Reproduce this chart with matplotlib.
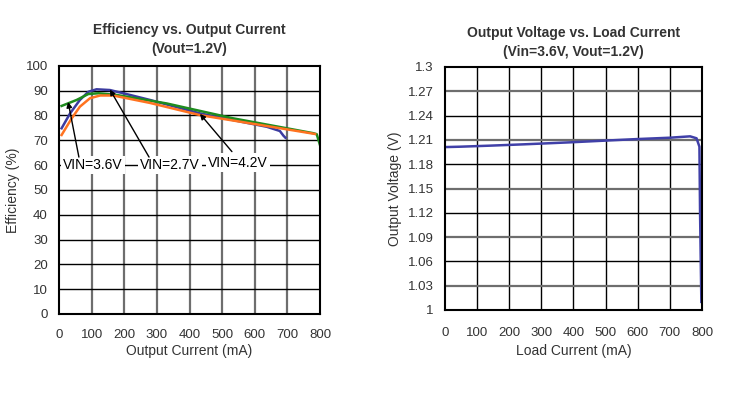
import matplotlib
matplotlib.use("Agg")
import matplotlib.pyplot as plt

plt.rcParams['font.family'] = ['Liberation Sans', 'DejaVu Sans']

# ---- Left chart data: efficiency vs output current ----
vin27_x = [8, 34, 64, 90, 115, 156, 197, 279, 432, 575, 637, 677, 688, 694]
vin27_y = [74.8, 80.8, 86.2, 89.5, 90.5, 90.2, 88.9, 86.2, 80.8, 77.0, 75.4, 73.7, 71.8, 71.0]

vin36_x = [8, 54, 90, 121, 177, 330, 534, 780, 790, 800]
vin36_y = [83.8, 86.2, 88.6, 88.9, 88.2, 84.8, 78.8, 72.8, 72.4, 68.0]

vin42_x = [8, 39, 64, 95, 126, 166, 279, 432, 637, 785]
vin42_y = [72.1, 78.8, 83.5, 86.9, 88.0, 88.0, 85.0, 80.1, 75.7, 72.5]

eff_xticks = [0, 100, 200, 300, 400, 500, 600, 700, 800]
eff_yticks = [0, 10, 20, 30, 40, 50, 60, 70, 80, 90, 100]

# annotations: label, text position (x, y), arrow head (x, y)
ann_labels = ["VIN=3.6V", "VIN=2.7V", "VIN=4.2V"]
ann_text_xy = [(12, 60), (248, 60), (457, 61)]
ann_head_xy = [(28, 85.4), (156, 90.4), (432, 80.6)]
ann_tail_xy = [(61, 63.2), (276, 63.2), (530, 65.4)]

# ---- Right chart data: output voltage vs load current ----
vout_x = [8, 48, 141, 244, 390, 493, 597, 700, 763, 783, 792, 794, 798]
vout_y = [1.2012, 1.2016, 1.2029, 1.2045, 1.2070, 1.2090, 1.2110, 1.2127, 1.2144, 1.2120, 1.2016, 1.119, 1.010]

vout_xticks = [0, 100, 200, 300, 400, 500, 600, 700, 800]
vout_yticks = [1.0, 1.03, 1.06, 1.09, 1.12, 1.15, 1.18, 1.21, 1.24, 1.27, 1.3]
vout_yticklabels = ["1", "1.03", "1.06", "1.09", "1.12", "1.15", "1.18", "1.21", "1.24", "1.27", "1.3"]

TXT = '#333333'
W, H = 734, 394
fig = plt.figure(figsize=(W / 100, H / 100), dpi=100)

def rect(l, r, t, b):
    return [l / W, (H - b) / H, (r - l) / W, (b - t) / H]

ax1 = fig.add_axes(rect(59, 320, 65.7, 314))
ax2 = fig.add_axes(rect(444.7, 702, 67, 310))

# ---- left ----
ax1.set_xlim(0, 800)
ax1.set_ylim(0, 100)
ax1.set_xticks(eff_xticks)
ax1.set_yticks(eff_yticks)
for x in eff_xticks[1:-1]:
    ax1.axvline(x, color='#6e6e6e', lw=1.6, zorder=1)
for y in eff_yticks[1:-1]:
    ax1.axhline(y, color='black', lw=1.0, zorder=1)

ax1.plot(vin27_x, vin27_y, color='#3b3ba0', lw=1.8, zorder=3)
ax1.plot(vin36_x, vin36_y, color='#1e8c1e', lw=1.8, zorder=3)
ax1.plot(vin42_x, vin42_y, color='#ff7320', lw=1.8, zorder=4)

for lab, txy, hxy, sxy in zip(ann_labels, ann_text_xy, ann_head_xy, ann_tail_xy):
    ax1.text(txy[0], txy[1], lab, fontsize=10, color='black', va='center', ha='left',
             zorder=6, bbox=dict(facecolor='white', edgecolor='none', pad=1.5))
    ax1.annotate('', xy=hxy, xytext=sxy, zorder=7,
                 arrowprops=dict(arrowstyle='-|>', color='black', lw=1.0,
                                 mutation_scale=8, shrinkA=0, shrinkB=0))

ax1.set_title("Efficiency vs. Output Current\n(Vout=1.2V)", fontsize=10,
              fontweight='bold', color=TXT, pad=9, linespacing=1.45)
ax1.set_xlabel("Output Current (mA)", fontsize=10, color=TXT, labelpad=2)
ax1.set_ylabel("Efficiency (%)", fontsize=10, color=TXT, labelpad=4)

# ---- right ----
ax2.set_xlim(0, 800)
ax2.set_ylim(1.0, 1.3)
ax2.set_xticks(vout_xticks)
ax2.set_yticks(vout_yticks)
ax2.set_yticklabels(vout_yticklabels)
for x in vout_xticks[1:-1]:
    ax2.axvline(x, color='black', lw=1.0, zorder=1)
for i, y in enumerate(vout_yticks[1:-1]):
    c = '#6e6e6e' if i % 2 == 0 else 'black'
    lw = 1.6 if i % 2 == 0 else 1.0
    ax2.axhline(y, color=c, lw=lw, zorder=1)

ax2.plot(vout_x, vout_y, color='#4040a8', lw=1.8, zorder=3)

ax2.set_title("Output Voltage vs. Load Current\n(Vin=3.6V, Vout=1.2V)", fontsize=10,
              fontweight='bold', color=TXT, pad=8, linespacing=1.45)
ax2.set_xlabel("Load Current (mA)", fontsize=10, color=TXT, labelpad=4)
ax2.set_ylabel("Output Voltage (V)", fontsize=10, color=TXT, labelpad=4)

for ax in (ax1, ax2):
    for s in ax.spines.values():
        s.set_color('black')
        s.set_linewidth(1.5)
        s.set_zorder(5)
    ax.tick_params(axis='both', length=0, labelsize=9.5, labelcolor=TXT)
    ax.tick_params(axis='y', pad=8)
ax1.tick_params(axis='x', pad=11)
ax2.tick_params(axis='x', pad=12)

fig.savefig("out.png", dpi=100)
